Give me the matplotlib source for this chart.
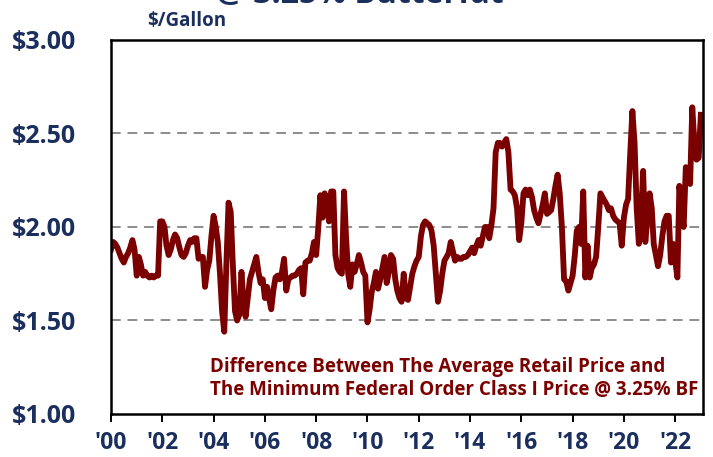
"""Retail price minus Class I price spread, whole milk, 2000-2023."""
import numpy as np
import pandas as pd
import matplotlib.pyplot as plt
import matplotlib.dates as mdates

# monthly spread, $/gallon (Jan 2000 .. Jan 2023)
y2000 = [1.88, 1.92, 1.91, 1.89, 1.86, 1.83, 1.81, 1.84, 1.86, 1.89, 1.93, 1.88]
y2001 = [1.74, 1.84, 1.80, 1.74, 1.76, 1.74, 1.73, 1.74, 1.73, 1.74, 1.74, 2.03]
y2002 = [2.03, 2.00, 1.90, 1.85, 1.88, 1.93, 1.96, 1.94, 1.89, 1.85, 1.84, 1.86]
y2003 = [1.90, 1.93, 1.92, 1.94, 1.94, 1.83, 1.84, 1.84, 1.68, 1.77, 1.82, 1.95]
y2004 = [2.06, 2.00, 1.92, 1.75, 1.55, 1.44, 1.80, 2.13, 2.08, 1.80, 1.55, 1.50]
y2005 = [1.53, 1.76, 1.60, 1.52, 1.62, 1.72, 1.76, 1.80, 1.84, 1.76, 1.70, 1.72]
y2006 = [1.62, 1.68, 1.62, 1.56, 1.66, 1.73, 1.74, 1.72, 1.76, 1.83, 1.66, 1.72]
y2007 = [1.73, 1.74, 1.74, 1.75, 1.77, 1.78, 1.64, 1.81, 1.82, 1.82, 1.86, 1.92]
y2008 = [1.85, 2.00, 2.17, 2.05, 2.18, 2.15, 2.03, 2.19, 2.19, 1.85, 1.78, 1.76]
y2009 = [1.75, 2.19, 1.95, 1.75, 1.68, 1.80, 1.76, 1.80, 1.85, 1.81, 1.76, 1.74]
y2010 = [1.49, 1.56, 1.65, 1.70, 1.76, 1.67, 1.72, 1.78, 1.84, 1.70, 1.76, 1.85]
y2011 = [1.83, 1.72, 1.66, 1.62, 1.60, 1.75, 1.62, 1.61, 1.68, 1.75, 1.79, 1.82]
y2012 = [1.84, 1.95, 2.01, 2.03, 2.02, 2.01, 1.98, 1.90, 1.75, 1.60, 1.66, 1.75]
y2013 = [1.82, 1.84, 1.86, 1.92, 1.87, 1.82, 1.84, 1.83, 1.83, 1.84, 1.84, 1.85]
y2014 = [1.87, 1.89, 1.86, 1.90, 1.93, 1.90, 1.95, 2.00, 2.00, 1.94, 2.01, 2.10]
y2015 = [2.40, 2.45, 2.45, 2.43, 2.45, 2.47, 2.40, 2.20, 2.19, 2.17, 2.10, 1.93]
y2016 = [2.02, 2.18, 2.20, 2.17, 2.20, 2.16, 2.09, 2.05, 2.02, 2.07, 2.12, 2.18]
y2017 = [2.07, 2.08, 2.09, 2.15, 2.22, 2.28, 2.18, 2.00, 1.72, 1.71, 1.66, 1.70]
y2018 = [1.74, 1.85, 1.98, 2.00, 1.91, 2.19, 1.73, 1.90, 1.73, 1.78, 1.80, 1.84]
y2019 = [2.00, 2.18, 2.16, 2.14, 2.12, 2.09, 2.10, 2.06, 2.04, 2.03, 2.02, 1.90]
y2020 = [2.05, 2.12, 2.15, 2.40, 2.62, 2.45, 2.10, 1.91, 2.05, 2.30, 1.92, 2.05]
y2021 = [2.18, 2.10, 1.91, 1.85, 1.79, 1.85, 1.95, 2.03, 2.06, 2.06, 1.81, 1.91]
y2022 = [1.82, 1.73, 2.22, 2.10, 2.00, 2.32, 2.25, 2.23, 2.64, 2.45, 2.36, 2.37]
y2023 = [2.60]

spread = (y2000 + y2001 + y2002 + y2003 + y2004 + y2005 + y2006 + y2007
          + y2008 + y2009 + y2010 + y2011 + y2012 + y2013 + y2014 + y2015
          + y2016 + y2017 + y2018 + y2019 + y2020 + y2021 + y2022 + y2023)
dates = pd.date_range("2000-01-01", periods=len(spread), freq="MS")

NAVY = "#1B2F5E"
RED = "#7B0000"
plt.rcParams["font.family"] = ["Open Sans", "DejaVu Sans"]

fig = plt.figure(figsize=(7.13, 4.57), dpi=100)
ax = fig.add_axes([0.1557, 0.0941, 0.8303, 0.8184])

ax.plot(dates, spread, color=RED, linewidth=4.2, solid_joinstyle="round")

ax.set_ylim(1.0, 3.0)
ax.set_yticks([1.0, 1.5, 2.0, 2.5, 3.0])
ax.set_yticklabels(["$1.00", "$1.50", "$2.00", "$2.50", "$3.00"])
for v in [1.5, 2.0, 2.5]:
    ax.axhline(v, color="#8C8C8C", linewidth=1.4, linestyle=(0, (5, 3.5)), zorder=0)

ax.set_xlim(pd.Timestamp("2000-01-01"), pd.Timestamp("2023-02-01"))
ax.xaxis.set_major_locator(mdates.YearLocator(2))
ax.xaxis.set_major_formatter(mdates.DateFormatter("'%y"))

ax.tick_params(axis="y", length=0, pad=25, labelsize=18, labelcolor=NAVY)
ax.tick_params(axis="x", length=6, width=1.4, direction="out", pad=6,
               labelsize=16.5, labelcolor=NAVY)
for lab in ax.get_xticklabels() + ax.get_yticklabels():
    lab.set_fontweight("bold")
for s in ax.spines.values():
    s.set_linewidth(1.8)
    s.set_color("black")

ax.text(0.167, 0.094, "Difference Between The Average Retail Price and\n"
        "The Minimum Federal Order Class I Price @ 3.25% BF",
        transform=ax.transAxes, color=RED, fontsize=13.5, fontweight="bold",
        linespacing=1.2, va="center", ha="left")

fig.text(0.207, 0.953, "$/Gallon", color=NAVY, fontsize=13.5, fontweight="bold",
         ha="left", va="center")
# the title sits mostly above the frame, only its foot shows
fig.text(0.505, 0.994, "@ 3.25% Butterfat", color=NAVY, fontsize=23,
         fontweight="bold", ha="center", va="baseline")

fig.savefig("out.png", dpi=100)
